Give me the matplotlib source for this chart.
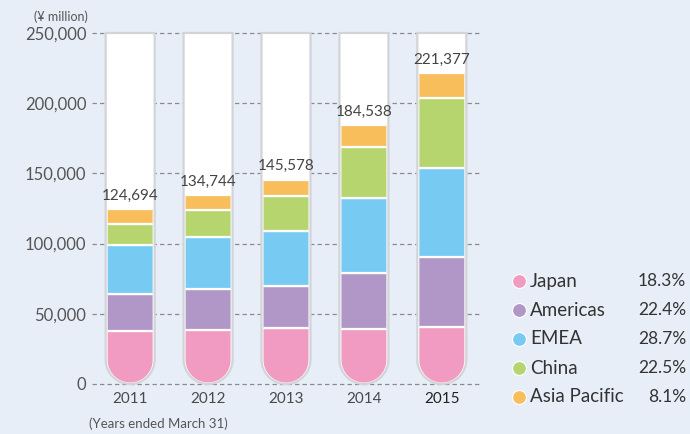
import numpy as np
import matplotlib
matplotlib.use('Agg')
import matplotlib.pyplot as plt
from matplotlib.path import Path
from matplotlib.patches import PathPatch
from matplotlib.lines import Line2D

plt.rcParams['font.family'] = ['Lato', 'DejaVu Sans']

years = ['2011', '2012', '2013', '2014', '2015']
regions = ['Japan', 'Americas', 'EMEA', 'China', 'Asia Pacific']
shares = ['18.3%', '22.4%', '28.7%', '22.5%', '8.1%']
colors = ['#F19BC2', '#B097C8', '#77CBF3', '#B6D56E', '#F9BE5C']

japan = [37500, 38450, 39870, 39370, 40510]
americas = [26500, 28980, 29900, 39880, 49590]
emea = [35000, 37230, 39160, 53400, 63540]
china = [15000, 19230, 24920, 36090, 49810]
asia_pacific = [10694, 10854, 11728, 15798, 17927]
totals = [124694, 134744, 145578, 184538, 221377]

series = [japan, americas, emea, china, asia_pacific]

bg = '#E8EEF8'
W, H = 690, 434
fig = plt.figure(figsize=(W / 100, H / 100), dpi=100, facecolor=bg)
ax = fig.add_axes([92 / W, 50 / H, 388 / W, 351 / H])
ax.set_facecolor(bg)
ax.set_xlim(-0.49, 4.49)
ax.set_ylim(0, 250000)
ypp = 250000 / 351   # data units per pixel (y)
xpp = 4.98 / 388     # data units per pixel (x)


def tube(cx, hw_px, bottom, top):
    rx = hw_px * xpp
    ry = hw_px * ypp
    arc = Path.arc(180, 360)
    verts = [(cx - rx, top), (cx - rx, bottom + ry)]
    codes = [Path.MOVETO, Path.LINETO]
    for (vx, vy), c in zip(arc.vertices[1:], arc.codes[1:]):
        verts.append((cx + rx * vx, bottom + ry + ry * vy))
        codes.append(c)
    verts += [(cx + rx, top), (cx + rx, top)]
    codes += [Path.LINETO, Path.CLOSEPOLY]
    return Path(verts, codes)


x = np.arange(len(years))

# grid
for v in range(0, 250001, 50000):
    ax.axhline(v, color='#8a8a8a', lw=0.9, ls=(0, (3.5, 2.5)), zorder=0, clip_on=False)

for i in range(len(years)):
    outer = PathPatch(tube(i, 24.5, 0, 250000), facecolor='white',
                      edgecolor='#d2d4d8', lw=1.6, zorder=1, clip_on=False)
    ax.add_patch(outer)
    inner = PathPatch(tube(i, 22.5, 1.5 * ypp, 249000), facecolor='none',
                      edgecolor='none', transform=ax.transData)
    ax.add_patch(inner)
    bottom = 0
    for s, c in zip(series, colors):
        b = ax.bar(i, s[i], bottom=bottom, width=0.62, color=c,
                   edgecolor='white', lw=1.6, zorder=2)
        for r in b:
            r.set_clip_path(inner)
        bottom += s[i]
    ax.text(i, totals[i] + 9500, f'{totals[i]:,}', ha='center', va='center',
            fontsize=11, color='#444444', zorder=3)

ax.set_xticks(x)
ax.set_xticklabels(years, fontsize=11, color='#4a4a4a')
ax.get_xticklabels()[-1].set_color('#222222')
ax.set_yticks(range(0, 250001, 50000))
ax.set_yticklabels([f'{v:,}' for v in range(0, 250001, 50000)],
                   fontsize=12, color='#555555')
ax.tick_params(length=0)
ax.tick_params(axis='y', pad=4)
ax.tick_params(axis='x', pad=6)
for sp in ax.spines.values():
    sp.set_visible(False)

fig.text(88 / W, 1 - 17 / H, '(¥ million)', ha='right', va='center',
         fontsize=9, color='#555555')
fig.text(89 / W, 1 - 424 / H, '(Years ended March 31)', ha='left', va='center',
         fontsize=9.5, color='#555555')

# legend
for k, (name, pct, c) in enumerate(zip(regions, shares, colors)):
    yy = 1 - (281 + 29 * k) / H
    fig.add_artist(Line2D([519 / W], [yy], transform=fig.transFigure, marker='o',
                          markersize=10, markerfacecolor=c,
                          markeredgecolor='white', markeredgewidth=0.8, ls='none'))
    fig.text(530 / W, yy, name, ha='left', va='center', fontsize=13.5, color='#333333')
    fig.text(686 / W, yy, pct, ha='right', va='center', fontsize=12.5, color='#333333')

fig.savefig('out.png', dpi=100, facecolor=bg)
